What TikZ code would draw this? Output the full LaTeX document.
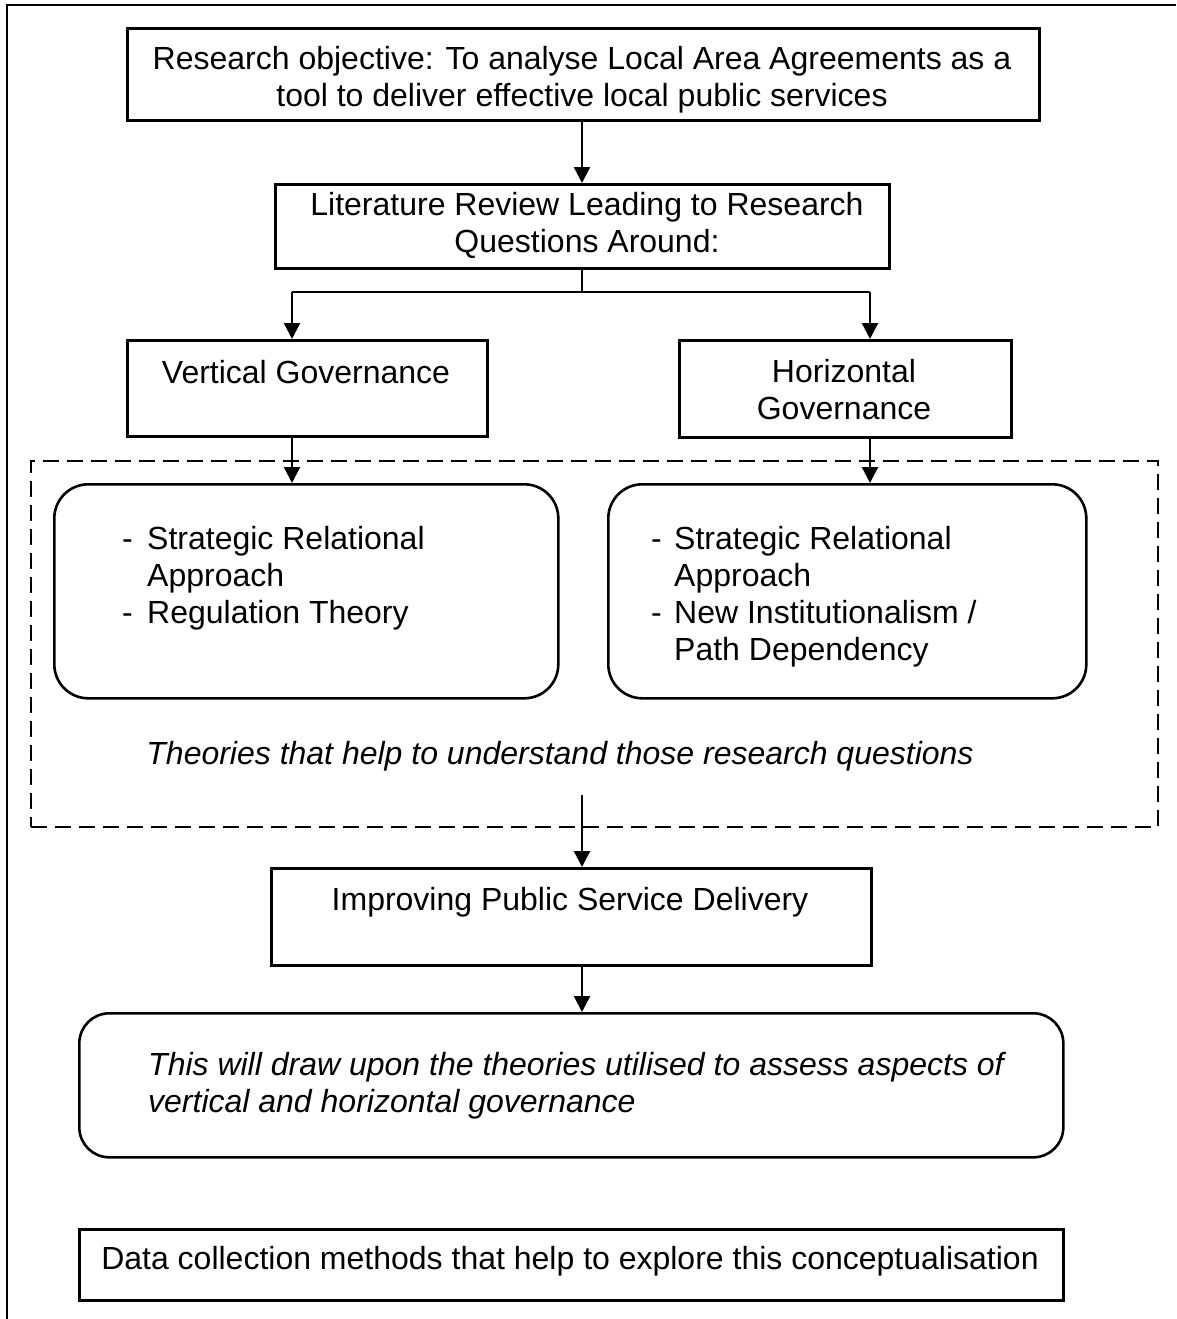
\documentclass[tikz,border=0pt]{standalone}
\usepackage{fontspec}
\setmainfont{Liberation Sans}
\usetikzlibrary{arrows.meta}
\begin{document}
\begin{tikzpicture}[x=1pt,y=-1pt,
  font=\fontsize{32}{37}\selectfont,
  box/.style={draw,line width=2.6pt,inner sep=0pt,anchor=north west},
  rbox/.style={box,rounded corners=34pt},
  dbox/.style={draw,line width=2.4pt,dash pattern=on 16pt off 8pt,inner sep=0pt,anchor=north west},
  txt/.style={inner sep=0pt,anchor=base,align=center},
  ltxt/.style={inner sep=0pt,anchor=base west,align=left},
  arr/.style={line width=2.4pt,-{Triangle[length=16pt,width=16pt]}},
  ln/.style={line width=2.4pt}]
\useasboundingbox (0,0) rectangle (1176,1319);
\draw[line width=2.6pt] (7,1319) -- (7,5) -- (1176,5);
% boxes
\node[box,minimum width=912pt,minimum height=92pt] (b1) at (126,27) {};
\node[box,minimum width=614pt,minimum height=84pt] (b2) at (274,183) {};
\node[box,minimum width=360pt,minimum height=96pt] (vg) at (126,339) {};
\node[box,minimum width=332pt,minimum height=97pt] (hg) at (678,339) {};
\node[dbox,minimum width=1127pt,minimum height=366pt] (db) at (30,460) {};
\node[rbox,minimum width=504pt,minimum height=214pt] (rl) at (53,483) {};
\node[rbox,minimum width=478pt,minimum height=214pt] (rr) at (607,483) {};
\node[box,minimum width=600pt,minimum height=97pt] (im) at (270,867) {};
\node[rbox,rounded corners=30pt,minimum width=984pt,minimum height=144pt] (rb) at (78,1012) {};
\node[box,minimum width=984pt,minimum height=71pt] (dc) at (78,1228) {};
% texts (multi-line nodes: base = baseline of last line)
\node[txt] (t1) at (582,107) {Research objective: To analyse Local Area Agreements as a\\tool to deliver effective local public services};
\node[txt] (t2) at (587,252) {Literature Review Leading to Research\\Questions Around:};
\node[txt] (t3) at (306,383) {Vertical Governance};
\node[txt] (t4) at (844,419) {Horizontal\\Governance};
\node[inner sep=0pt,anchor=base west] (t5) at (122,549) {\begin{tabular}[t]{@{}p{25pt}@{}l@{}}-&Strategic Relational\\&Approach\\-&Regulation Theory\end{tabular}};
\node[inner sep=0pt,anchor=base west] (t6) at (651,549) {\begin{tabular}[t]{@{}p{23pt}@{}l@{}}-&Strategic Relational\\&Approach\\-&New Institutionalism /\\&Path Dependency\end{tabular}};
\node[txt,font=\fontsize{32}{37}\selectfont\itshape] (t7) at (560,764) {Theories that help to understand those research questions};
\node[txt] (t8) at (570,910) {Improving Public Service Delivery};
\node[ltxt,font=\fontsize{32}{37}\selectfont\itshape] (t9) at (148,1112) {This will draw upon the theories utilised to assess aspects of\\vertical and horizontal governance};
\node[txt] (t10) at (570,1269) {Data collection methods that help to explore this conceptualisation};
% connectors
\coordinate (j) at (582,292);
\coordinate (jl) at (292,292);
\coordinate (jr) at (870,292);
\coordinate (ts) at (582,795);
\draw[arr] (b1.south -| j) -- (b2.north -| j);
\draw[ln] (b2.south -| j) -- (j);
\draw[ln] (jl) -- (jr);
\draw[arr] (jl) -- (jl |- vg.north);
\draw[arr] (jr) -- (jr |- hg.north);
\draw[arr] (jl |- vg.south) -- (jl |- rl.north);
\draw[arr] (jr |- hg.south) -- (jr |- rr.north);
\draw[arr] (ts) -- (ts |- im.north);
\draw[arr] (ts |- im.south) -- (ts |- rb.north);
\end{tikzpicture}
\end{document}
